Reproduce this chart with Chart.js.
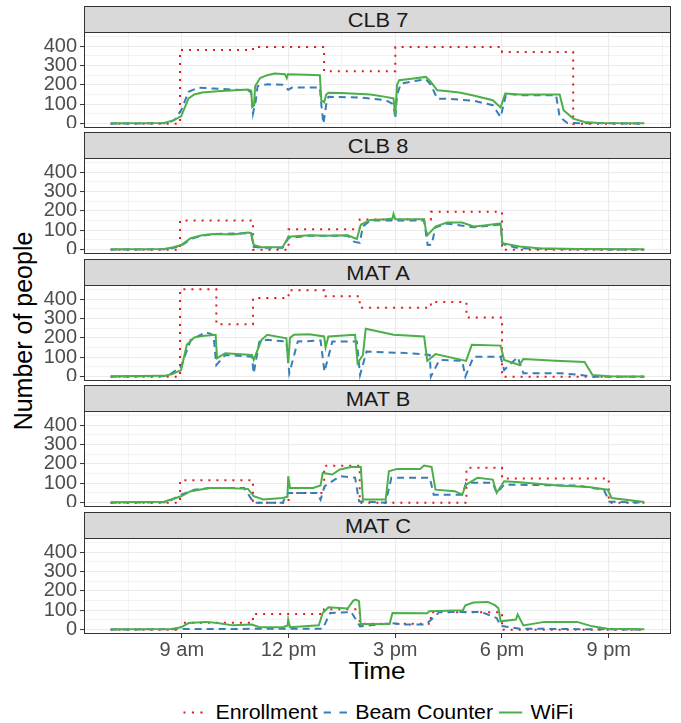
<!DOCTYPE html>
<html>
<head>
<meta charset="utf-8">
<script src="https://cdn.jsdelivr.net/npm/chart.js@4.4.1/dist/chart.umd.min.js"></script>
<style>
  body { margin: 0; background: #fff; }
  #fig { position: relative; width: 681px; height: 723px; overflow: hidden; font-family: "Liberation Sans", Arial, sans-serif; }
  .strip { position: absolute; left: 84px; width: 587px; height: 27px; box-sizing: border-box; background: #d9d9d9; border: 1px solid #333; }
  .strip span { position: absolute; left: 50%; top: 50%; transform: translate(-50%, -50%) scaleX(1.09); font-size: 20px; color: #1a1a1a; white-space: nowrap; }
  canvas { position: absolute; left: 0; }
  #ytitle { position: absolute; left: 23px; top: 331px; transform: translate(-50%, -50%) rotate(-90deg); font-size: 25px; color: #000; white-space: nowrap; }
  #xtitle { position: absolute; left: 377px; top: 671px; transform: translate(-50%, -50%) scaleX(1.09); font-size: 24px; color: #000; white-space: nowrap; }
  #legend { position: absolute; left: 381px; top: 712px; transform: translate(-50%, -50%) scaleX(1.07); display: flex; align-items: center; font-size: 20px; color: #000; white-space: nowrap; }
  #legend svg { margin-right: 8px; }
  #legend .item { display: flex; align-items: center; margin-right: 5px; }
</style>
</head>
<body>
<div id="fig">
  <div id="ytitle">Number of people</div>
  <div id="xtitle">Time</div>
  <div id="legend">
    <div class="item"><svg width="22" height="12"><line x1="0" y1="6" x2="22" y2="6" stroke="#E41A1C" stroke-width="2" stroke-dasharray="2 6"/></svg>Enrollment</div>
    <div class="item"><svg width="22" height="12"><line x1="0" y1="6" x2="22" y2="6" stroke="#377EB8" stroke-width="2" stroke-dasharray="7 8"/></svg>Beam Counter</div>
    <div class="item"><svg width="22" height="12"><line x1="0" y1="6" x2="22" y2="6" stroke="#4DAF4A" stroke-width="2"/></svg>WiFi</div>
  </div>
</div>
<script>
// time in hours of the day, [hour, people]
const panelNames = ['CLB 7', 'CLB 8', 'MAT A', 'MAT B', 'MAT C'];
const hourTicks = [7.5, 9, 10.5, 12, 13.5, 15, 16.5, 18, 19.5, 21, 22.5];
const hourLabels = { 9: '9 am', 12: '12 pm', 15: '3 pm', 18: '6 pm', 21: '9 pm' };
const countTicks = [0, 50, 100, 150, 200, 250, 300, 350, 400, 450];

const clb7Enroll = [[7,0],[8.95,380],[11.0,395],[13.0,270],[15.0,395],[18.0,370],[20.0,0],[22,0]];
const clb7Beam = [[7,0],[8.6,2],[8.8,20],[8.98,69],[9.19,164],[9.46,186],[9.89,181],[10.86,172],[10.95,160],[11.0,52],[11.08,120],[11.13,193],[11.4,203],[11.83,200],[11.99,175],[12.1,186],[12.88,186],[12.92,100],[12.98,0],[13.06,100],[13.12,138],[14.0,135],[14.73,121],[14.95,100],[15.0,26],[15.05,150],[15.16,207],[15.59,221],[15.86,229],[16.0,200],[16.18,129],[16.5,128],[17.2,118],[17.74,95],[17.96,34],[18.12,155],[18.5,147],[19.52,147],[19.62,34],[19.84,3],[22,0]];
const clb7Wifi = [[7,2],[8.5,3],[8.76,17],[8.98,38],[9.09,86],[9.19,130],[9.35,150],[9.57,160],[10.0,167],[10.86,176],[10.95,170],[10.98,86],[11.03,95],[11.06,193],[11.2,235],[11.4,250],[11.61,259],[11.9,255],[11.95,235],[11.98,255],[12.5,252],[12.88,250],[12.92,121],[13.0,110],[13.06,150],[13.12,159],[13.5,158],[14.3,150],[14.73,138],[14.95,130],[15.0,43],[15.05,200],[15.11,224],[15.4,230],[15.86,241],[16.0,215],[16.18,172],[16.34,169],[16.8,160],[17.2,145],[17.74,121],[17.96,83],[18.09,155],[18.5,150],[19.62,150],[19.73,69],[20.0,26],[20.32,9],[20.7,3],[22,2]];

const clb8Enroll = [[7,0],[8.95,150],[11.0,0],[12.0,105],[14.0,155],[16.0,195],[18.0,0],[22,0]];
const clb8Beam = [[7,0],[8.6,2],[8.98,20],[9.25,55],[9.57,72],[9.89,80],[10.86,85],[10.95,80],[11.02,15],[11.24,10],[11.83,10],[12.0,60],[12.58,72],[13.66,72],[13.85,40],[14.0,35],[14.09,120],[14.3,150],[15.0,150],[15.81,150],[15.91,24],[16.02,25],[16.13,115],[16.45,135],[17.2,115],[17.96,130],[18.01,30],[18.4,10],[18.8,5],[20,2],[22,0]];
const clb8Wifi = [[7,2],[8.5,3],[8.76,12],[8.98,24],[9.25,59],[9.57,74],[9.89,81],[10.43,78],[10.86,88],[10.95,85],[11.02,24],[11.24,12],[11.83,12],[12.0,67],[12.58,74],[13.0,71],[13.66,74],[13.85,60],[13.92,55],[14.03,128],[14.3,153],[14.73,157],[14.92,160],[14.95,184],[15.0,157],[15.81,157],[15.86,100],[15.91,76],[16.13,119],[16.45,140],[16.88,140],[17.2,119],[17.5,125],[17.96,136],[18.01,33],[18.49,16],[19.03,7],[20.11,3],[22,2]];

const matAEnroll = [[7,0],[8.95,450],[9.97,270],[11.0,405],[12.0,445],[13.0,415],[14.0,355],[16.0,385],[17.0,305],[18.0,0],[22,0]];
const matABeam = [[7,0],[8.6,3],[8.98,52],[9.25,190],[9.68,229],[9.89,215],[9.97,60],[10.22,112],[10.97,103],[11.02,17],[11.18,181],[11.4,190],[11.94,181],[12.02,17],[12.26,181],[12.9,186],[13.01,26],[13.23,181],[13.92,181],[14.01,9],[14.19,129],[15.38,121],[15.97,112],[16.0,0],[16.24,86],[16.88,81],[16.97,0],[17.2,103],[17.96,103],[18.06,34],[18.44,100],[18.6,17],[19.68,17],[20.22,9],[20.54,0],[22,0]];
const matAWifi = [[7,2],[8.5,4],[8.71,12],[8.98,34],[9.14,164],[9.35,202],[9.57,210],[9.95,216],[9.99,95],[10.22,121],[10.97,112],[11.02,86],[11.24,190],[11.4,216],[11.94,198],[11.99,69],[12.04,200],[12.15,216],[12.58,219],[13.0,207],[13.04,150],[13.12,207],[13.87,216],[13.94,69],[14.09,112],[14.17,247],[14.95,216],[15.81,207],[15.9,81],[16.13,116],[16.99,81],[17.15,164],[17.96,160],[18.06,86],[18.49,60],[18.6,91],[19.5,82],[20.32,76],[20.54,9],[21.0,2],[22,1]];

const matBEnroll = [[7,0],[8.95,115],[11.0,0],[12.0,50],[13.0,190],[14.0,0],[17.0,180],[18.0,125],[21.0,0],[22,0]];
const matBBeam = [[7,0],[8.6,2],[8.98,41],[9.35,66],[9.78,76],[10.75,76],[11.02,0],[11.83,0],[11.99,50],[12.8,50],[12.9,15],[13.01,84],[13.44,136],[13.87,129],[13.98,7],[14.73,0],[14.89,128],[15.97,128],[16.08,41],[16.88,41],[16.99,102],[17.74,102],[17.85,50],[18.06,93],[20.11,88],[20.86,67],[21.02,5],[22,0]];
const matBWifi = [[7,2],[8.5,5],[8.98,33],[9.25,59],[9.78,76],[10.22,76],[10.86,71],[11.02,33],[11.29,16],[11.83,24],[11.97,30],[11.99,136],[12.04,76],[12.69,76],[12.9,88],[12.96,153],[13.23,145],[13.44,171],[13.76,184],[14.03,184],[14.09,16],[14.73,16],[14.82,162],[15.05,174],[15.7,174],[15.81,191],[16.02,184],[16.13,67],[16.67,59],[16.88,41],[16.99,93],[17.31,128],[17.74,119],[17.85,50],[18.06,110],[18.49,105],[19.57,88],[20.43,81],[20.97,67],[21.08,24],[22,3]];

const matCEnroll = [[7,0],[8.98,35],[11.0,80],[13.0,105],[14.0,30],[16.0,90],[18.0,0],[22,0]];
const matCBeam = [[7,0],[9.0,3],[12.96,5],[13.17,86],[13.76,91],[14.01,17],[14.89,34],[15.27,26],[15.86,26],[16.24,91],[17.42,91],[17.85,60],[17.96,20],[18.49,5],[22,0]];
const matCWifi = [[7,2],[8.71,3],[8.98,12],[9.19,34],[9.68,40],[10.0,34],[10.43,22],[10.97,26],[11.18,12],[11.83,12],[11.97,20],[11.99,52],[12.04,12],[12.85,22],[12.96,86],[13.12,115],[13.66,109],[13.82,150],[13.89,155],[13.98,147],[14.03,29],[14.84,29],[14.92,86],[15.9,84],[15.95,95],[16.9,100],[16.97,125],[17.2,140],[17.6,143],[17.8,126],[17.9,110],[17.96,43],[18.39,52],[18.44,78],[18.6,22],[19.19,40],[20.11,40],[20.54,17],[20.97,5],[22,2]];

const panels = [
  [clb7Enroll, clb7Beam, clb7Wifi],
  [clb8Enroll, clb8Beam, clb8Wifi],
  [matAEnroll, matABeam, matAWifi],
  [matBEnroll, matBBeam, matBWifi],
  [matCEnroll, matCBeam, matCWifi]
];

const plotTops = [32, 158, 285, 411, 538];
const plotH = 96;
const bottomAxisH = 34;
const tickFont = { family: 'Liberation Sans', size: 20 };

const panelBox = {
  id: 'panelBox',
  afterDatasetsDraw(chart) {
    const a = chart.chartArea, c = chart.ctx;
    c.save();
    c.strokeStyle = '#333333';
    c.lineWidth = 1;
    c.strokeRect(Math.round(a.left) + 0.5, Math.round(a.top) + 0.5,
      Math.round(a.right - a.left) - 1, Math.round(a.bottom - a.top) - 1);
    c.restore();
  }
};

function noPad(s) {
  s.paddingTop = 0; s.paddingBottom = 0; s.paddingLeft = 0; s.paddingRight = 0;
}

const toXY = arr => arr.map(p => ({ x: p[0], y: p[1] }));
const fig = document.getElementById('fig');

panels.forEach((ser, i) => {
  const last = i === panels.length - 1;

  const strip = document.createElement('div');
  strip.className = 'strip';
  strip.style.top = (plotTops[i] - 26) + 'px';
  strip.innerHTML = '<span>' + panelNames[i] + '</span>';
  fig.appendChild(strip);

  const cv = document.createElement('canvas');
  cv.width = 681;
  cv.height = plotH + (last ? bottomAxisH : 0);
  cv.style.top = plotTops[i] + 'px';
  fig.appendChild(cv);

  new Chart(cv, {
    type: 'line',
    data: {
      datasets: [
        { label: 'WiFi', data: toXY(ser[2]), borderColor: '#4DAF4A', borderWidth: 2, pointRadius: 0, tension: 0, fill: false },
        { label: 'Beam Counter', data: toXY(ser[1]), borderColor: '#377EB8', borderWidth: 2, borderDash: [7, 5], pointRadius: 0, tension: 0, fill: false },
        { label: 'Enrollment', data: toXY(ser[0]), borderColor: '#E41A1C', borderWidth: 2, borderDash: [2, 6], stepped: true, pointRadius: 0, fill: false }
      ]
    },
    options: {
      responsive: false,
      animation: false,
      events: [],
      layout: { padding: { left: 0, right: 10, top: 0, bottom: 0 } },
      plugins: { legend: { display: false }, tooltip: { enabled: false } },
      scales: {
        x: {
          type: 'linear',
          min: 6.25,
          max: 22.75,
          afterBuildTicks: s => { s.ticks = hourTicks.map(v => ({ value: v })); },
          afterFit: s => { s.height = last ? bottomAxisH : 0; noPad(s); },
          border: { display: false },
          grid: {
            color: '#ebebeb',
            lineWidth: c => (hourLabels[c.tick.value] ? 1.1 : 0.6),
            drawTicks: last,
            tickLength: 4,
            tickColor: c => (hourLabels[c.tick.value] ? '#333333' : 'rgba(0,0,0,0)'),
            tickWidth: 1
          },
          ticks: {
            display: last,
            autoSkip: false,
            maxRotation: 0,
            padding: 0,
            color: '#4d4d4d',
            font: tickFont,
            callback: v => hourLabels[v] || ''
          }
        },
        y: {
          min: -22.5,
          max: 472.5,
          afterBuildTicks: s => { s.ticks = countTicks.map(v => ({ value: v })); },
          afterFit: s => { s.width = 84; noPad(s); },
          border: { display: false },
          grid: {
            color: '#ebebeb',
            lineWidth: c => (c.tick.value % 100 === 0 ? 1.1 : 0.6),
            tickLength: 4,
            tickColor: c => (c.tick.value % 100 === 0 && c.tick.value <= 400 ? '#333333' : 'rgba(0,0,0,0)'),
            tickWidth: 1
          },
          ticks: {
            autoSkip: false,
            padding: 3,
            color: '#4d4d4d',
            font: tickFont,
            callback: v => (v % 100 === 0 ? String(v) : '')
          }
        }
      }
    },
    plugins: [panelBox]
  });
});
</script>
</body>
</html>
